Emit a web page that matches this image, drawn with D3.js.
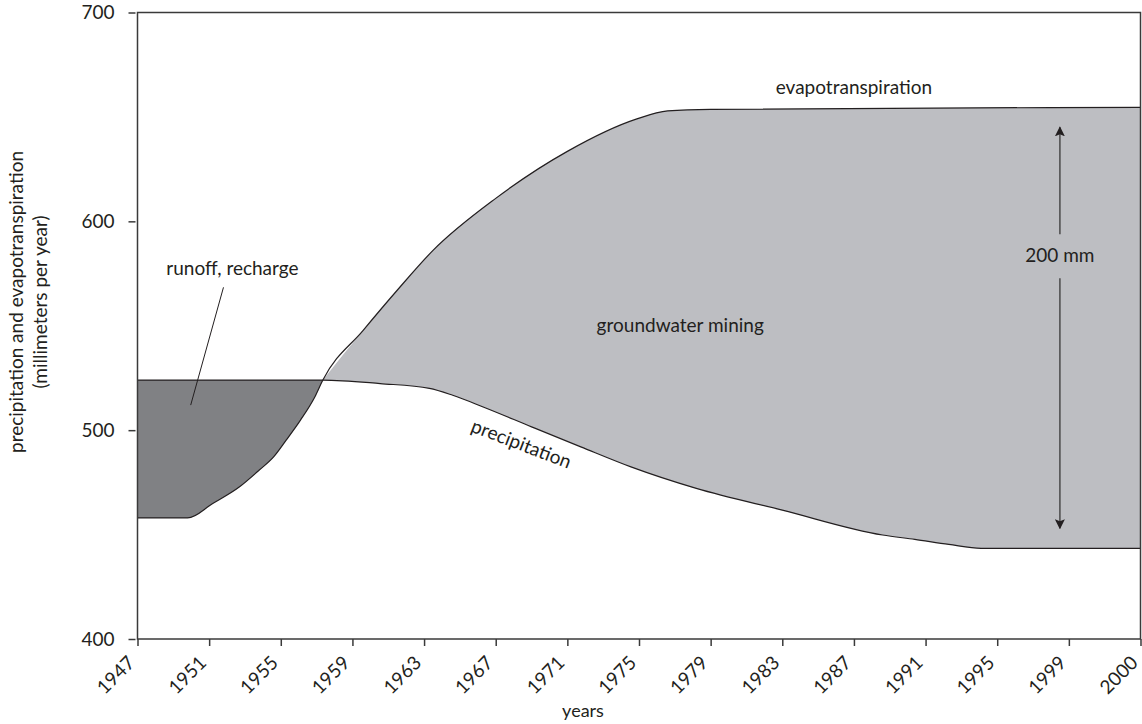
<!DOCTYPE html>
<html>
<head>
<meta charset="utf-8">
<script src="https://cdn.jsdelivr.net/npm/d3@7"></script>
<style>
  html, body { margin: 0; padding: 0; background: #fff; }
  svg { display: block; }
  text { font-family: Lato, "Open Sans", sans-serif; fill: #231f20; }
</style>
</head>
<body>
<svg id="chart" width="1142" height="724"></svg>
<script>
// ---------- data ----------
const tickYears = [1947, 1951, 1955, 1959, 1963, 1967, 1971, 1975, 1979, 1983, 1987, 1991, 1995, 1999, 2000];
const yTicks = [400, 500, 600, 700];

// evapotranspiration (mm / year)
const etYears  = [1947, 1949.8, 1951.2, 1952.7, 1953.8, 1954.6, 1955.3, 1956.1, 1956.9, 1957.35, 1959.6, 1961.5, 1963.5, 1967, 1971, 1974.8, 1976.6, 1979, 2000];
const etValues = [458, 458, 464.9, 472.9, 480.9, 487.2, 495.2, 504.8, 515.9, 524, 547.8, 567.0, 586.1, 611.0, 633.5, 648.8, 652.9, 653.6, 654.6];

// precipitation (mm / year)
const prYears  = [1947, 1957.35, 1960.55, 1963.3, 1964.6, 1966.3, 1969.0, 1971.75, 1974.55, 1978.2, 1983.0, 1988.6, 1990.4, 1992.3, 1994.1, 2000];
const prValues = [524, 524, 522.3, 520.0, 516.7, 511.1, 501.6, 492.0, 482.4, 472.1, 461.7, 449.8, 447.7, 445.3, 443.4, 443.4];

const crossYear = 1957.35;

// annotations
const arrowYear = 1998.5;
const arrowFrom = 453, arrowTo = 645;
const labels = [
  { text: "evapotranspiration", year: 1987.0, value: 660.8, rotate: 0 },
  { text: "groundwater mining", year: 1977.3, value: 546.9, rotate: 0 },
  { text: "runoff, recharge",   year: 1952.3, value: 574.2, rotate: 0 },
  { text: "200 mm",             year: 1998.5, value: 580.4, rotate: 0 },
  { text: "precipitation",      year: 1968.3, value: 490.5, rotate: 21 }
];
const leader = { from: { year: 1951.8, value: 568.4 }, to: { year: 1949.97, value: 512 } };

const yTitle1 = "precipitation and evapotranspiration";
const yTitle2 = "(millimeters per year)";
const xTitle = "years";

// ---------- layout ----------
const mLeft = 137.5, mRight = 1140.5, mTop = 12.5, mBottom = 639;
const svg = d3.select("#chart");

const step = (mRight - mLeft) / (tickYears.length - 1);
const x = d3.scaleLinear().domain(tickYears).range(tickYears.map((d, i) => mLeft + i * step));
const y = d3.scaleLinear().domain([400, 700]).range([mBottom, mTop]);

const et = etYears.map((d, i) => ({ year: d, v: etValues[i] }));
const pr = prYears.map((d, i) => ({ year: d, v: prValues[i] }));

const curve = d3.curveMonotoneX;
const defs = svg.append("defs");

defs.append("clipPath").attr("id", "abovePr").append("path")
  .attr("d", d3.area().x(d => x(d.year)).y0(mTop).y1(d => y(d.v)).curve(curve)(pr.filter(d => d.year >= crossYear)));
defs.append("clipPath").attr("id", "aboveEt").append("path")
  .attr("d", d3.area().x(d => x(d.year)).y0(mTop).y1(d => y(d.v)).curve(curve)(et.filter(d => d.year <= crossYear)));

// groundwater mining (ET above precipitation)
svg.append("path")
  .attr("d", d3.area().x(d => x(d.year)).y0(mBottom).y1(d => y(d.v)).curve(curve)(et.filter(d => d.year >= crossYear)))
  .attr("fill", "#bdbec2")
  .attr("clip-path", "url(#abovePr)");

// runoff / recharge (precipitation above ET)
svg.append("path")
  .attr("d", d3.area().x(d => x(d.year)).y0(mBottom).y1(d => y(d.v)).curve(curve)(pr.filter(d => d.year <= crossYear)))
  .attr("fill", "#808184")
  .attr("clip-path", "url(#aboveEt)");

const line = d3.line().x(d => x(d.year)).y(d => y(d.v)).curve(curve);
svg.append("path").attr("d", line(et)).attr("fill", "none").attr("stroke", "#231f20").attr("stroke-width", 1.2);
svg.append("path").attr("d", line(pr)).attr("fill", "none").attr("stroke", "#231f20").attr("stroke-width", 1.2);

// frame
svg.append("rect").attr("x", mLeft).attr("y", mTop).attr("width", mRight - mLeft).attr("height", mBottom - mTop)
  .attr("fill", "none").attr("stroke", "#3a3a3a").attr("stroke-width", 1.5);

// y axis ticks
const yAxis = svg.append("g").attr("transform", `translate(${mLeft - 2},0)`)
  .call(d3.axisLeft(y).tickValues(yTicks).tickSize(7).tickPadding(14).tickFormat(d3.format("d")));
yAxis.select(".domain").remove();
yAxis.selectAll("line").attr("stroke", "#3a3a3a").attr("stroke-width", 1.5);
yAxis.selectAll("text").attr("font-size", 19).attr("font-family", "Lato, sans-serif").attr("fill", "#231f20");

// x axis ticks
const xAxis = svg.append("g").attr("transform", `translate(0,${mBottom})`)
  .call(d3.axisBottom(x).tickValues(tickYears).tickSize(7).tickFormat(d3.format("d")));
xAxis.select(".domain").remove();
xAxis.selectAll("line").attr("stroke", "#3a3a3a").attr("stroke-width", 1.5);
xAxis.selectAll("text")
  .attr("font-size", 19).attr("font-family", "Lato, sans-serif").attr("fill", "#231f20")
  .attr("text-anchor", "end").attr("dy", null).attr("y", null)
  .attr("transform", "translate(-2,25) rotate(-45)");

// axis titles
svg.append("text").attr("x", 583).attr("y", 717).attr("text-anchor", "middle").attr("font-size", 18).text(xTitle);
svg.append("text").attr("transform", "translate(23,302) rotate(-90)").attr("text-anchor", "middle").attr("font-size", 19).text(yTitle1);
svg.append("text").attr("transform", "translate(47,302) rotate(-90)").attr("text-anchor", "middle").attr("font-size", 19).text(yTitle2);

// labels
labels.forEach(l => {
  svg.append("text")
    .attr("transform", `translate(${x(l.year)},${y(l.value)}) rotate(${l.rotate})`)
    .attr("text-anchor", "middle").attr("font-size", 19).text(l.text);
});

// leader line
svg.append("line")
  .attr("x1", x(leader.from.year)).attr("y1", y(leader.from.value))
  .attr("x2", x(leader.to.year)).attr("y2", y(leader.to.value))
  .attr("stroke", "#231f20").attr("stroke-width", 1);

// 200 mm arrow, broken around its label
defs.append("marker").attr("id", "head").attr("viewBox", "0 0 10 10").attr("refX", 9).attr("refY", 5)
  .attr("markerWidth", 10).attr("markerHeight", 10).attr("markerUnits", "userSpaceOnUse").attr("orient", "auto")
  .append("path").attr("d", "M0,0 L10,5 L0,10 L2,5 Z").attr("fill", "#231f20");
const ax = x(arrowYear);
const labY = y(580.4);
svg.append("line").attr("x1", ax).attr("x2", ax).attr("y1", labY - 28).attr("y2", y(arrowTo))
  .attr("stroke", "#4a4a4a").attr("stroke-width", 1.5).attr("marker-end", "url(#head)");
svg.append("line").attr("x1", ax).attr("x2", ax).attr("y1", labY + 16).attr("y2", y(arrowFrom))
  .attr("stroke", "#4a4a4a").attr("stroke-width", 1.5).attr("marker-end", "url(#head)");
</script>
</body>
</html>
